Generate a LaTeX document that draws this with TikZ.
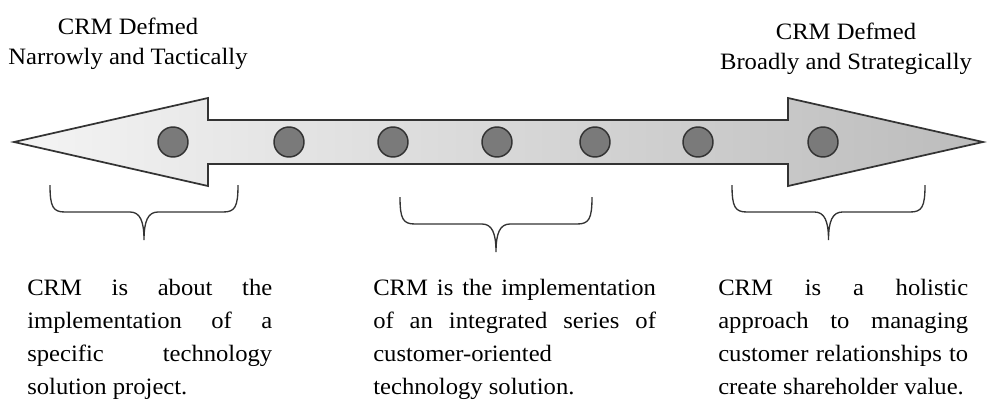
\documentclass[tikz,border=0pt]{standalone}
\usepackage{fontspec}
\setmainfont{Liberation Serif}[FakeStretch=1.05]
\usepackage{xcolor}
\usetikzlibrary{positioning}
\hyphenpenalty=10000

\definecolor{shaftleft}{HTML}{F4F4F4}
\definecolor{shaftright}{HTML}{BCBCBC}
\definecolor{dotfill}{HTML}{7A7A7A}
\definecolor{inkgray}{HTML}{333333}

\tikzset{
  dot/.style={circle, draw=inkgray, line width=1.1pt, fill=dotfill, minimum size=22.5pt, inner sep=0pt},
  heading/.style={align=center, font=\fontsize{17.6}{22.5}\selectfont},
  blurb/.style={align=justify, anchor=base west, inner sep=0pt, font=\fontsize{17.6}{24.75}\selectfont},
  bracestyle/.style={draw=inkgray, line width=1pt}
}

% curly brace: left x, right x, top y
\newcommand{\crmbrace}[3]{%
  \pgfmathsetmacro\bmid{(#1+#2)/2}
  \draw[bracestyle] (#1,#3) .. controls (#1,#3+22) and (#1+3,#3+27) .. (#1+15,#3+27) -- (\bmid-14,#3+27) .. controls (\bmid-4,#3+27) and (\bmid,#3+36) .. (\bmid,#3+55) .. controls (\bmid,#3+36) and (\bmid+4,#3+27) .. (\bmid+14,#3+27) -- (#2-15,#3+27) .. controls (#2-3,#3+27) and (#2,#3+22) .. (#2,#3) ;
}

\begin{document}
\begin{tikzpicture}[x=0.75pt,y=0.75pt,yscale=-1,xscale=1]
\useasboundingbox (0,0) rectangle (988,401);

%Shape: Double Arrow
\path [draw=inkgray, line width=1.3pt, left color=shaftleft, right color=shaftright, line join=miter]
  (14,142) -- (208,98) -- (208,120) -- (788,120) -- (788,98) -- (983,142) -- (788,186) -- (788,164) -- (208,164) -- (208,186) -- cycle ;

%Dots on the arrow
\foreach \i/\x in {1/173, 2/289, 3/393, 4/497, 5/595, 6/698, 7/823}
  \node [dot] (dot\i) at (\x,142) {};

%Braces
\crmbrace{50}{238}{185}
\crmbrace{400}{592}{197}
\crmbrace{732}{925}{185}

% Text Node
\node [heading] (narrow) at (128,44) {CRM Defmed\\Narrowly and Tactically};
% Text Node
\node [heading] (broad) at (846,49) {CRM Defmed\\Broadly and Strategically};

% Text Node
\node [blurb, text width=183.75pt] (tactical) at (27,295) {CRM is about the\linebreak implementation of a\linebreak specific technology\linebreak solution project.};
% Text Node
\node [blurb, text width=212pt] (integrated) at (373,295) {CRM is the implementation\linebreak of an integrated series of\linebreak customer-oriented\\technology solution.};
% Text Node
\node [blurb, text width=187.5pt] (holistic) at (718,295) {CRM is a holistic\linebreak approach to managing\linebreak customer relationships to\linebreak create shareholder value.};

\end{tikzpicture}
\end{document}
